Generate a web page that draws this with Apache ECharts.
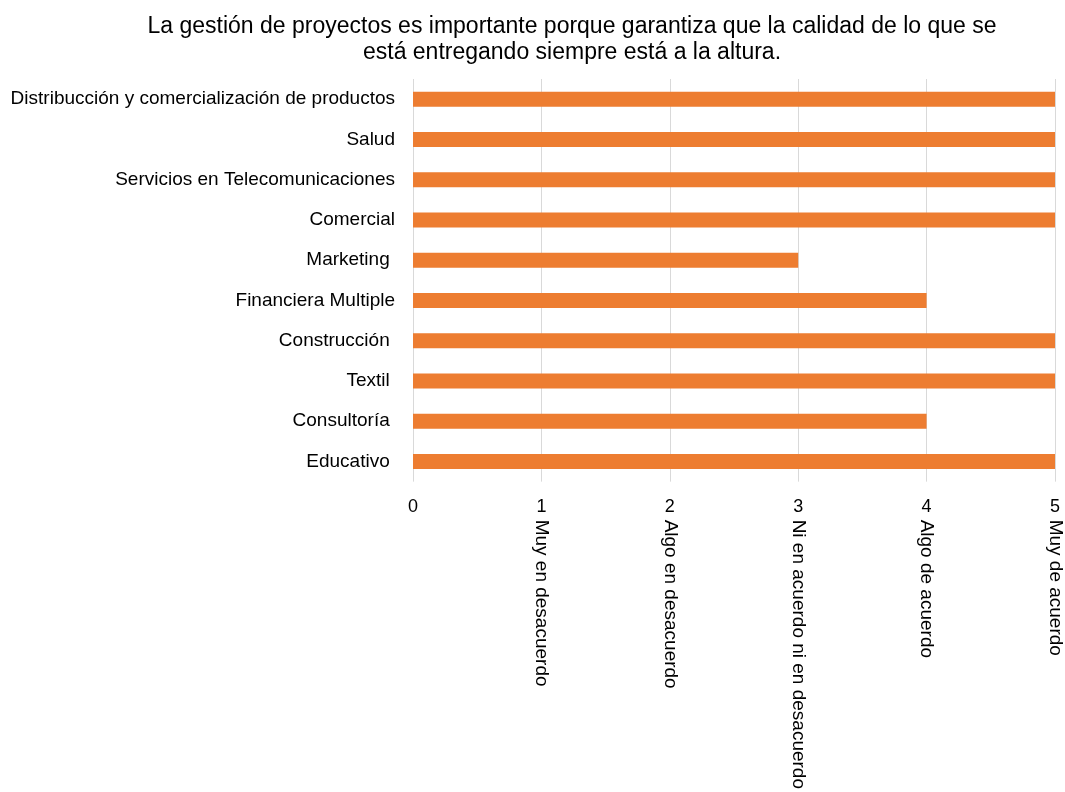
<!DOCTYPE html>
<html>
<head>
<meta charset="utf-8">
<script src="https://cdn.jsdelivr.net/npm/echarts@6/dist/echarts.min.js"></script>
<style>
  html, body { margin: 0; padding: 0; background: #fff; }
  #chart { width: 1065px; height: 792px; }
</style>
</head>
<body>
<div id="chart"></div>
<script>
// Sectors, top to bottom
const categories = [
  'Distribucción y comercialización de productos',
  'Salud',
  'Servicios en Telecomunicaciones',
  'Comercial',
  'Marketing ',
  'Financiera Multiple',
  'Construcción ',
  'Textil ',
  'Consultoría ',
  'Educativo '
];
// Agreement score per sector
const values = [5, 5, 5, 5, 3, 4, 5, 5, 4, 5];
// Meaning of each scale value
const scaleLabels = ['', 'Muy en desacuerdo', 'Algo en desacuerdo', 'Ni en acuerdo ni en desacuerdo', 'Algo de acuerdo', 'Muy de acuerdo'];

const titleText = 'La gestión de proyectos es importante porque garantiza que la calidad de lo que se\nestá entregando siempre está a la altura.';

const font = 'Liberation Sans, Arial, Helvetica, sans-serif';
const chart = echarts.init(document.getElementById('chart'));

chart.setOption({
  backgroundColor: '#ffffff',
  animation: false,
  textStyle: { fontFamily: font },
  title: {
    text: titleText,
    left: 567,
    textAlign: 'center',
    top: 9,
    textStyle: { fontFamily: font, fontSize: 23, fontWeight: 'normal', color: '#000', lineHeight: 26 }
  },
  grid: { left: 413, right: 10, top: 79, bottom: 302, containLabel: false },
  xAxis: [
    {
      type: 'value', min: 0, max: 5, interval: 1, position: 'bottom',
      axisLine: { show: false }, axisTick: { show: false },
      splitLine: { show: true, lineStyle: { color: '#d9d9d9', width: 1 } },
      axisLabel: { color: '#000', fontSize: 18, fontFamily: font, margin: 16 }
    },
    {
      type: 'value', min: 0, max: 5, interval: 1, position: 'bottom',
      axisLine: { show: false }, axisTick: { show: false }, splitLine: { show: false },
      axisLabel: {
        color: '#000', fontSize: 19, fontFamily: font, margin: 38, rotate: -90,
        formatter: function (v) { return scaleLabels[Math.round(v)] || ''; }
      }
    }
  ],
  yAxis: {
    type: 'category', data: categories, inverse: true,
    axisLine: { show: false }, axisTick: { show: false },
    axisLabel: { color: '#000', fontSize: 19, fontFamily: font, margin: 18 }
  },
  series: [{
    type: 'bar', data: values, xAxisIndex: 0,
    barWidth: 15,
    itemStyle: { color: '#ED7D31' }
  }]
});
</script>
</body>
</html>
